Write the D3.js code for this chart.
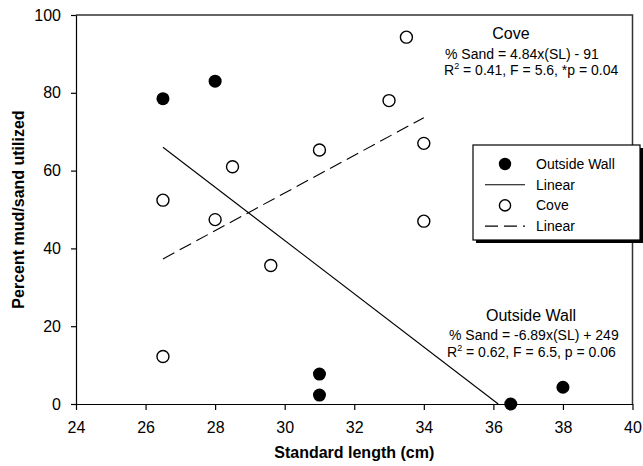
<!DOCTYPE html>
<html lang="en">
<head>
    <meta charset="UTF-8">
    <title>Mud/sand use vs standard length</title>
    <script src="https://cdn.jsdelivr.net/npm/d3@7/dist/d3.min.js"></script>
    <style>
        body { margin: 0; background: #fff; }
        text { font-family: "Liberation Sans", Arial, sans-serif; }
    </style>
</head>
<body>
<div id="mainContent"></div>
<script>
    const margin = {top: 15, right: 10, bottom: 62, left: 76},
        width = 632.5 - margin.left,
        height = 404 - margin.top;

    // data
    const outsideX = [26.5, 28, 31, 31, 36.5, 38];
    const outsideY = [78.5, 83, 7.7, 2.3, 0, 4.3];
    const coveX = [26.5, 26.5, 28, 28.5, 29.6, 31, 33, 33.5, 34, 34];
    const coveY = [52.4, 12.2, 47.4, 61, 35.6, 65.3, 78, 94.3, 67, 47];
    // fitted lines (end points)
    const outsideFit = [[26.5, 66], [36.14, 0]];
    const coveFit = [[26.5, 37.3], [34, 73.6]];

    const xTicks = [24, 26, 28, 30, 32, 34, 36, 38, 40];
    const yTicks = [0, 20, 40, 60, 80, 100];

    const svg = d3.select("#mainContent").append("svg")
        .attr("width", 643)
        .attr("height", 466);

    const g = svg.append("g")
        .attr("transform", "translate(" + margin.left + "," + margin.top + ")");

    const xScale = d3.scaleLinear().domain([24, 40]).range([0, width]);
    const yScale = d3.scaleLinear().domain([0, 100]).range([height, 0]);

    // frame top + right
    g.append("path")
        .attr("d", "M0,0H" + width + "V" + height)
        .attr("fill", "none")
        .attr("stroke", "#333")
        .attr("stroke-width", 1.5);

    const xAxis = g.append("g")
        .attr("transform", "translate(0," + height + ")")
        .call(d3.axisBottom(xScale).tickValues(xTicks).tickSize(6).tickPadding(12).tickSizeOuter(0));
    const yAxis = g.append("g")
        .call(d3.axisLeft(yScale).tickValues(yTicks).tickSize(5).tickPadding(10).tickSizeOuter(0));

    [xAxis, yAxis].forEach(a => {
        a.attr("font-size", 16).attr("font-family", "Liberation Sans, Arial, sans-serif");
        a.selectAll("line, path").attr("stroke", "#000").attr("stroke-width", 1.2);
        a.selectAll(".tick text").attr("fill", "#000");
    });

    const line = d3.line().x(d => xScale(d[0])).y(d => yScale(d[1]));

    g.append("path").datum(outsideFit)
        .attr("d", line).attr("fill", "none")
        .attr("stroke", "#000").attr("stroke-width", 1.1);
    g.append("path").datum(coveFit)
        .attr("d", line).attr("fill", "none")
        .attr("stroke", "#000").attr("stroke-width", 1.1)
        .attr("stroke-dasharray", "13,6");

    g.selectAll(".cove").data(coveX).enter()
        .append("circle").attr("class", "cove")
        .attr("cx", d => xScale(d))
        .attr("cy", (d, i) => yScale(coveY[i]))
        .attr("r", 6)
        .attr("fill", "#fff").attr("stroke", "#000").attr("stroke-width", 1.4);

    g.selectAll(".outside").data(outsideX).enter()
        .append("circle").attr("class", "outside")
        .attr("cx", d => xScale(d))
        .attr("cy", (d, i) => yScale(outsideY[i]))
        .attr("r", 6.5)
        .attr("fill", "#000");

    // axis titles
    svg.append("text").text("Standard length (cm)")
        .attr("x", margin.left + width / 2).attr("y", 458)
        .attr("text-anchor", "middle")
        .attr("font-size", 16).attr("font-weight", "bold");
    svg.append("text").text("Percent mud/sand utilized")
        .attr("transform", "translate(24," + (margin.top + height / 2) + ") rotate(-90)")
        .attr("text-anchor", "middle")
        .attr("font-size", 16).attr("font-weight", "bold");

    // annotations
    const notes = [
        {t: "Cove", x: 511, y: 39, s: 16, mid: true},
        {t: "% Sand = 4.84x(SL) - 91", x: 445, y: 59, s: 14},
        {t: "R|2| = 0.41, F = 5.6, *p = 0.04", x: 444, y: 75, s: 14},
        {t: "Outside Wall", x: 531, y: 321, s: 16, mid: true},
        {t: "% Sand = -6.89x(SL) + 249", x: 449, y: 340, s: 14},
        {t: "R|2| = 0.62, F = 6.5, p = 0.06", x: 447, y: 357, s: 14}
    ];
    notes.forEach(n => {
        const txt = svg.append("text").attr("x", n.x).attr("y", n.y).attr("font-size", n.s)
            .attr("text-anchor", n.mid ? "middle" : "start");
        const parts = n.t.split("|");
        if (parts.length === 1) { txt.text(n.t); return; }
        txt.append("tspan").text(parts[0]);
        txt.append("tspan").text(parts[1]).attr("dy", -6).attr("font-size", 9);
        txt.append("tspan").text(parts[2]).attr("dy", 6);
    });

    // legend
    const legend = svg.append("g").attr("transform", "translate(473,145)");
    legend.append("rect").attr("x", 3).attr("y", 3).attr("width", 167).attr("height", 95).attr("fill", "#000");
    legend.append("rect").attr("width", 167).attr("height", 95)
        .attr("fill", "#fff").attr("stroke", "#000").attr("stroke-width", 1.2);
    const rows = ["Outside Wall", "Linear", "Cove", "Linear"];
    rows.forEach((r, i) => {
        const y = 19 + i * 20.7;
        const row = legend.append("g").attr("transform", "translate(0," + y + ")");
        if (i === 0) row.append("circle").attr("cx", 32).attr("r", 6.2).attr("fill", "#000");
        if (i === 2) row.append("circle").attr("cx", 32).attr("r", 5.6).attr("fill", "#fff")
            .attr("stroke", "#000").attr("stroke-width", 1.4);
        if (i === 1 || i === 3) row.append("line").attr("x1", 12).attr("x2", 52)
            .attr("stroke", "#000").attr("stroke-width", 1.1)
            .attr("stroke-dasharray", i === 3 ? "13,6" : null);
        row.append("text").text(r).attr("x", 63).attr("y", 5).attr("font-size", 14);
    });
</script>
</body>
</html>
